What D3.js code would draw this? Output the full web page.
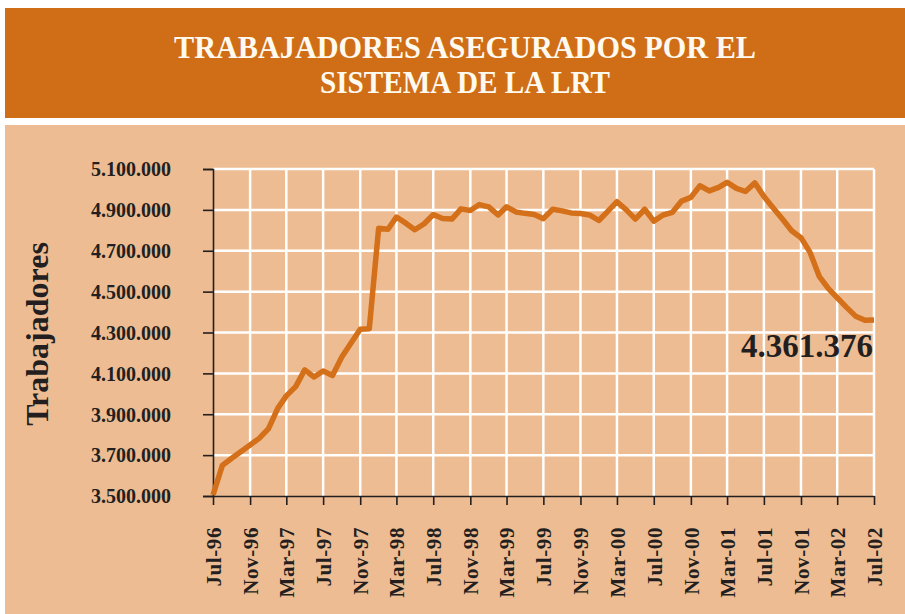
<!DOCTYPE html>
<html lang="es">
    <head>
        <meta charset="utf-8">
        <title>Trabajadores asegurados por el sistema de la LRT</title>
        <script src="https://d3js.org/d3.v7.min.js"></script>
    </head>

    <style type="text/css">
        body {
            margin: 0;
            background: #ffffff;
        }

        svg text {
            font-family: "Liberation Serif", "DejaVu Serif", serif;
            font-weight: bold;
        }

        .grid line {
            stroke: #ffffff;
            stroke-width: 2.5px;
        }

        .axis line {
            stroke: #231f20;
            stroke-width: 1.6px;
        }
    </style>

    <body>
        <div class="chart"></div>
        <script type="text/javascript">
            // monthly values, Jul-96 .. Jul-02
            var startMonth = new Date(1996, 6, 1);
            var values = [
                3505000, 3650000, 3685000, 3717000, 3750000, 3782000, 3830000, 3930000,
                3990000, 4035000, 4117000, 4082000, 4112000, 4090000, 4180000, 4247000,
                4316000, 4318000, 4810000, 4805000, 4865000, 4835000, 4803000, 4832000,
                4877000, 4858000, 4855000, 4905000, 4897000, 4926000, 4915000, 4875000,
                4915000, 4890000, 4883000, 4877000, 4857000, 4903000, 4895000, 4885000,
                4882000, 4875000, 4848000, 4895000, 4940000, 4900000, 4855000, 4903000,
                4845000, 4875000, 4888000, 4943000, 4961000, 5018000, 4993000, 5010000,
                5035000, 5005000, 4990000, 5032000, 4966000, 4909000, 4854000, 4798000,
                4764000, 4692000, 4573000, 4513000, 4470000, 4423000, 4380000, 4360000,
                4361376
            ];
            var lastLabel = "4.361.376";

            var xTickLabels = ["Jul-96", "Nov-96", "Mar-97", "Jul-97", "Nov-97", "Mar-98",
                "Jul-98", "Nov-98", "Mar-99", "Jul-99", "Nov-99", "Mar-00", "Jul-00",
                "Nov-00", "Mar-01", "Jul-01", "Nov-01", "Mar-02", "Jul-02"];
            var yTicks = [3500000, 3700000, 3900000, 4100000, 4300000, 4500000, 4700000, 4900000, 5100000];

            var titleLines = ["TRABAJADORES ASEGURADOS POR EL", "SISTEMA DE LA LRT"];
            var yTitle = "Trabajadores";

            var width = 905, height = 614;
            var plot = {left: 213, right: 874, top: 169, bottom: 496};

            var months = values.map(function(v, i) { return d3.timeMonth.offset(startMonth, i); });
            var tickMonths = xTickLabels.map(function(l, i) { return d3.timeMonth.offset(startMonth, i * 4); });

            var svg = d3.select(".chart")
                .append("svg")
                .attr("width", width)
                .attr("height", height);

            // banner + panel
            svg.append("rect").attr("x", 5).attr("y", 8).attr("width", 900).attr("height", 110)
                .attr("fill", "#cf6e17");
            svg.append("rect").attr("x", 5).attr("y", 125).attr("width", 900).attr("height", 489)
                .attr("fill", "#edbc92");

            svg.selectAll(".title")
                .data(titleLines)
                .enter()
                .append("text")
                .attr("class", "title")
                .attr("x", 465)
                .attr("y", function(d, i) { return 58 + i * 35; })
                .attr("text-anchor", "middle")
                .attr("fill", "#fffaf0")
                .style("font-size", "31px")
                .attr("textLength", function(d, i) { return i == 0 ? 582 : 290; })
                .attr("lengthAdjust", "spacingAndGlyphs")
                .text(function(d) { return d; });

            var xScale = d3.scaleTime()
                .domain([months[0], months[months.length - 1]])
                .range([plot.left, plot.right]);

            var yScale = d3.scaleLinear()
                .domain([3500000, 5100000])
                .range([plot.bottom, plot.top]);

            var fmt = function(v) { return d3.format(",")(v).replace(/,/g, "."); };

            // grid
            var grid = svg.append("g").attr("class", "grid");
            grid.selectAll(".h")
                .data(yTicks.slice(1))
                .enter()
                .append("line")
                .attr("x1", plot.left).attr("x2", plot.right)
                .attr("y1", function(d) { return yScale(d); })
                .attr("y2", function(d) { return yScale(d); });
            grid.selectAll(".v")
                .data(tickMonths.slice(1))
                .enter()
                .append("line")
                .attr("y1", plot.top).attr("y2", plot.bottom)
                .attr("x1", function(d) { return xScale(d); })
                .attr("x2", function(d) { return xScale(d); });

            // y axis
            var yAxis = d3.axisLeft(yScale)
                .tickValues(yTicks)
                .tickSize(10)
                .tickPadding(32)
                .tickFormat(fmt);
            var gy = svg.append("g")
                .attr("class", "axis")
                .attr("transform", "translate(" + plot.left + ",0)")
                .call(yAxis);
            gy.select(".domain").attr("stroke", "#231f20").attr("stroke-width", 1.6);
            gy.selectAll("text")
                .attr("fill", "#231f20")
                .style("font-size", "20px")
                .attr("dy", "0.34em");

            // x axis
            var xAxis = d3.axisBottom(xScale)
                .tickValues(tickMonths)
                .tickSize(9)
                .tickSizeOuter(0)
                .tickFormat(function(d, i) { return xTickLabels[i]; });
            var gx = svg.append("g")
                .attr("class", "axis")
                .attr("transform", "translate(0," + plot.bottom + ")")
                .call(xAxis);
            gx.select(".domain").attr("stroke", "#231f20").attr("stroke-width", 1.6);
            gx.selectAll("text")
                .attr("fill", "#231f20")
                .style("font-size", "21px")
                .style("letter-spacing", "0.6px")
                .attr("transform", "rotate(-90)")
                .attr("text-anchor", "end")
                .attr("x", -31)
                .attr("y", 0)
                .attr("dy", "0.35em");

            // y title
            svg.append("text")
                .attr("transform", "translate(48,334) rotate(-90)")
                .attr("text-anchor", "middle")
                .attr("fill", "#231f20")
                .style("font-size", "32px")
                .text(yTitle);

            // line
            var line = d3.line()
                .x(function(d, i) { return xScale(months[i]); })
                .y(function(d) { return yScale(d); });

            svg.append("path")
                .datum(values)
                .attr("d", line)
                .attr("fill", "none")
                .attr("stroke", "#d4701a")
                .attr("stroke-width", 5.5)
                .attr("stroke-linejoin", "round");

            // last value label
            svg.append("text")
                .attr("x", xScale(months[months.length - 1]) - 1)
                .attr("y", 357)
                .attr("text-anchor", "end")
                .attr("fill", "#231f20")
                .style("font-size", "33px")
                .text(lastLabel);
        </script>
    </body>
</html>
